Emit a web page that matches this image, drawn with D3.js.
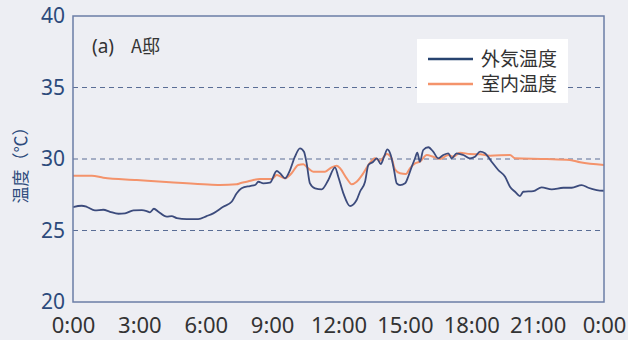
<!DOCTYPE html>
<html>
<head>
<meta charset="utf-8">
<script src="https://cdn.jsdelivr.net/npm/d3@7"></script>
<style>
  html, body { margin: 0; padding: 0; background: #edeef3; }
  svg { display: block; font-family: "Noto Sans", "Noto Sans CJK JP", sans-serif; }
</style>
</head>
<body>
<svg id="chart" width="628" height="340"></svg>
<script>
// Hourly readings (hour of day, °C)
const outdoorHours = [0, 0.39, 0.62, 0.99, 1.37, 1.67, 2.05, 2.35, 2.73, 3.11, 3.33, 3.48, 3.66, 3.86, 4.24, 4.46, 4.69, 5.14, 5.66, 6.04, 6.34, 6.79, 7.17, 7.40, 7.62, 8.0, 8.23, 8.38, 8.60, 8.90, 9.21, 9.36, 9.58, 9.81, 10.03, 10.26, 10.44, 10.56, 10.71, 10.94, 11.24, 11.54, 11.84, 11.99, 12.22, 12.52, 12.82, 12.97, 13.20, 13.35, 13.57, 13.73, 13.91, 14.06, 14.21, 14.36, 14.51, 14.63, 14.78, 15.01, 15.15, 15.31, 15.46, 15.56, 15.68, 15.83, 16.06, 16.28, 16.51, 16.74, 16.96, 17.12, 17.34, 17.64, 17.94, 18.17, 18.40, 18.62, 18.92, 19.22, 19.53, 19.75, 19.98, 20.20, 20.35, 20.81, 21.18, 21.64, 22.16, 22.54, 22.99, 23.29, 23.67, 24.0];
const outdoorTemp = [26.64, 26.73, 26.66, 26.41, 26.45, 26.31, 26.17, 26.20, 26.41, 26.43, 26.36, 26.27, 26.52, 26.31, 25.97, 26.01, 25.87, 25.80, 25.80, 26.01, 26.20, 26.66, 27.01, 27.60, 27.95, 28.11, 28.18, 28.41, 28.30, 28.34, 29.16, 29.0, 28.65, 29.23, 30.16, 30.75, 30.51, 29.70, 28.30, 27.95, 27.88, 28.53, 29.42, 28.76, 27.60, 26.71, 27.13, 27.71, 28.41, 29.58, 29.81, 30.05, 29.65, 30.16, 30.68, 30.28, 29.23, 28.30, 28.18, 28.30, 28.76, 29.46, 30.05, 30.44, 29.81, 30.63, 30.82, 30.51, 30.05, 30.28, 30.40, 30.05, 30.40, 30.28, 30.05, 30.16, 30.51, 30.40, 29.81, 29.23, 28.76, 28.06, 27.71, 27.41, 27.71, 27.76, 28.02, 27.88, 27.99, 27.99, 28.18, 27.99, 27.83, 27.78];

const indoorHours = [0, 0.85, 1.37, 2.88, 4.38, 5.89, 6.64, 7.40, 7.55, 7.85, 8.15, 8.45, 8.98, 9.21, 9.58, 9.88, 10.18, 10.41, 10.63, 10.86, 11.39, 11.69, 11.92, 12.07, 12.37, 12.60, 12.82, 13.12, 13.35, 13.65, 13.88, 14.18, 14.40, 14.55, 14.78, 15.05, 15.23, 15.46, 15.68, 15.99, 16.28, 16.59, 16.96, 17.19, 17.49, 17.94, 18.40, 18.85, 19.75, 19.98, 21.41, 22.46, 22.92, 24.0];
const indoorTemp = [28.83, 28.83, 28.69, 28.53, 28.37, 28.23, 28.18, 28.23, 28.30, 28.41, 28.53, 28.60, 28.60, 28.88, 28.65, 29.0, 29.58, 29.63, 29.35, 29.11, 29.11, 29.42, 29.53, 29.35, 28.65, 28.23, 28.41, 29.0, 29.58, 30.05, 29.88, 30.35, 30.05, 29.28, 29.0, 28.95, 29.35, 29.70, 29.81, 30.28, 30.16, 30.0, 30.28, 30.16, 30.44, 30.35, 30.33, 30.23, 30.28, 30.05, 30.0, 29.93, 29.77, 29.58];

const xTickHours = [0, 3, 6, 9, 12, 15, 18, 21, 24];
const xTickLabels = ["0:00", "3:00", "6:00", "9:00", "12:00", "15:00", "18:00", "21:00", "0:00"];
const yTicks = [20, 25, 30, 35, 40];
const gridValues = [25, 30, 35];
const seriesNames = ["外気温度", "室内温度"];
const seriesColors = ["#3c4b7c", "#f4936b"];
const legendColors = ["#27436f", "#f4936b"];

const svg = d3.select("#chart");
const m = { left: 73, right: 604, top: 16, bottom: 302 };

const x = d3.scaleLinear().domain([0, 24]).range([m.left, m.right]);
const y = d3.scaleLinear().domain([20, 40]).range([m.bottom, m.top]);

// dashed reference lines
svg.append("g").selectAll("line").data(gridValues).join("line")
  .attr("x1", m.left).attr("x2", m.right)
  .attr("y1", d => y(d)).attr("y2", d => y(d))
  .attr("stroke", "#5a6d95").attr("stroke-width", 1)
  .attr("stroke-dasharray", "5,4");

// series lines
const line = d3.line().curve(d3.curveMonotoneX).x(d => x(d[0])).y(d => y(d[1]));
const outdoor = outdoorHours.map((h, i) => [h, outdoorTemp[i]]);
const indoor = indoorHours.map((h, i) => [h, indoorTemp[i]]);

svg.append("path").datum(indoor).attr("d", line)
  .attr("fill", "none").attr("stroke", seriesColors[1]).attr("stroke-width", 2);
svg.append("path").datum(outdoor).attr("d", line)
  .attr("fill", "none").attr("stroke", seriesColors[0]).attr("stroke-width", 1.8);

// frame
svg.append("rect")
  .attr("x", m.left).attr("y", m.top)
  .attr("width", m.right - m.left).attr("height", m.bottom - m.top)
  .attr("fill", "none").attr("stroke", "#6b7ea6").attr("stroke-width", 1.5);

// y axis
const yAxis = d3.axisLeft(y).tickValues(yTicks).tickSize(0).tickPadding(8);
const gy = svg.append("g").attr("transform", `translate(${m.left},0)`).call(yAxis);
gy.select(".domain").remove();
gy.selectAll("text").attr("fill", "#2c4a7b").attr("font-size", 21)
  .attr("font-family", "'Noto Sans', sans-serif");

// x axis
const xAxis = d3.axisBottom(x).tickValues(xTickHours).tickSize(0).tickPadding(15)
  .tickFormat((d, i) => xTickLabels[i]);
const gx = svg.append("g").attr("transform", `translate(0,${m.bottom})`).call(xAxis);
gx.select(".domain").remove();
gx.selectAll("text").attr("fill", "#333333").attr("font-size", 22)
  .attr("font-family", "'Noto Sans', sans-serif");

// y axis title
svg.append("text")
  .attr("transform", "translate(27,161) rotate(-90)")
  .attr("text-anchor", "middle")
  .attr("fill", "#2c4a7b").attr("font-size", 17)
  .attr("font-family", "'Noto Sans CJK JP', sans-serif")
  .text("温度（℃）");

// panel title
svg.append("text").attr("x", 92).attr("y", 53)
  .attr("fill", "#333").attr("font-size", 19)
  .attr("font-family", "'Noto Sans', sans-serif").text("(a)");
svg.append("text").attr("x", 131).attr("y", 53)
  .attr("fill", "#333").attr("font-size", 18)
  .attr("font-family", "'Noto Sans CJK JP', sans-serif").text("A邸");

// legend
const lg = svg.append("g");
lg.append("rect").attr("x", 417).attr("y", 39).attr("width", 151).attr("height", 64)
  .attr("fill", "#ffffff");
seriesNames.forEach((name, i) => {
  const ly = 59 + i * 25;
  lg.append("line").attr("x1", 428).attr("x2", 473).attr("y1", ly).attr("y2", ly)
    .attr("stroke", legendColors[i]).attr("stroke-width", 2.5);
  lg.append("text").attr("x", 481).attr("y", ly).attr("dy", "0.36em")
    .attr("fill", "#333").attr("font-size", 19)
    .attr("font-family", "'Noto Sans CJK JP', sans-serif").text(name);
});
</script>
</body>
</html>
